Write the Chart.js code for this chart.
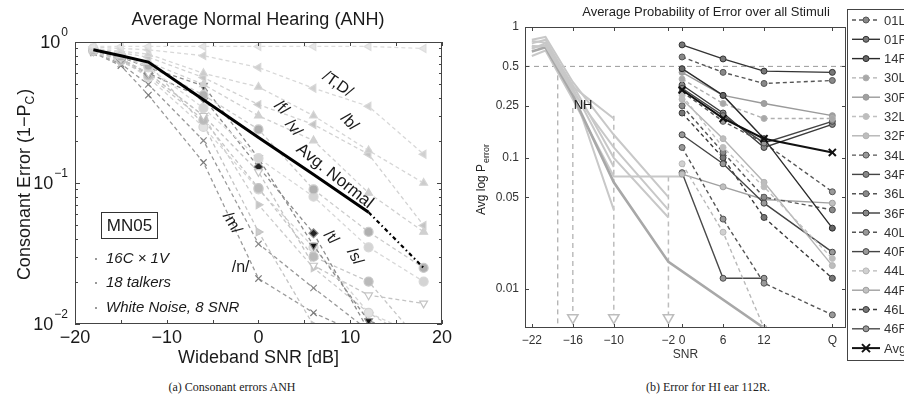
<!DOCTYPE html>
<html>
<head>
<meta charset="utf-8">
<script src="https://cdn.jsdelivr.net/npm/chart.js@4.4.1/dist/chart.umd.min.js"></script>
<style>
  body { margin: 0; width: 904px; height: 396px; background: #fff; position: relative; overflow: hidden; }
  canvas { position: absolute; top: 0; }
  #chartA { left: 0; }
  #chartB { left: 455px; }
  .cap { position: absolute; top: 380px; font: 12px "Liberation Serif", serif; color: #222; text-align: center; white-space: nowrap; }
</style>
</head>
<body>
<canvas id="chartA" width="455" height="372"></canvas>
<canvas id="chartB" width="449" height="372"></canvas>
<div class="cap" style="left:132px;width:200px">(a) Consonant errors ANH</div>
<div class="cap" style="left:608px;width:200px">(b) Error for HI ear 112R.</div>
<script>
// ---------- panel (a) data: error vs wideband SNR, 16 consonants + average
const snrA = [-18, -15, -12, -6, 0, 6, 12, 18];
const avgNormal = [0.88, 0.8, 0.72, 0.39, 0.21, 0.115, 0.062, 0.025];
const errTheta = [0.93, 0.93, 0.93, 0.93, 0.93, 0.93, 0.93, 0.9];
const errDh = [0.92, 0.9, 0.88, 0.8, 0.66, 0.47, 0.35, 0.16];
const errB = [0.9, 0.86, 0.82, 0.6, 0.48, 0.3, 0.17, 0.1];
const errF = [0.9, 0.84, 0.78, 0.56, 0.36, 0.26, 0.16, 0.05];
const errV = [0.88, 0.8, 0.72, 0.5, 0.3, 0.2, 0.085, 0.045];
const errS = [0.88, 0.79, 0.68, 0.42, 0.24, 0.09, 0.045, 0.025];
const errZ = [0.9, 0.8, 0.66, 0.34, 0.15, 0.08, 0.035, 0.02];
const errSh = [0.86, 0.76, 0.6, 0.3, 0.12, 0.026, 0.016, 0.014];
const errT = [0.88, 0.78, 0.66, 0.49, 0.15, 0.036, 0.0105, 0.008];
const errD = [0.87, 0.76, 0.6, 0.4, 0.13, 0.044, 0.009, 0.006];
const errK = [0.86, 0.74, 0.58, 0.28, 0.092, 0.03, 0.02, 0.007];
const errG = [0.87, 0.75, 0.56, 0.25, 0.09, 0.035, 0.012, 0.008];
const errP = [0.85, 0.72, 0.6, 0.3, 0.07, 0.025, 0.012, 0.007];
const errZh = [0.9, 0.82, 0.7, 0.26, 0.045, 0.0098, 0.006, 0.005];
const errM = [0.85, 0.7, 0.5, 0.2, 0.037, 0.018, 0.009, 0.007];
const errN = [0.84, 0.68, 0.42, 0.14, 0.021, 0.012, 0.008, 0.006];
const ticksA = [-20, -10, 0, 10, 20];

// ---------- panel (b) data: NH curves and HI ears
const nhSnr = [-22, -20, -16, -10, -2, 0, 12];
const nh1 = [0.75, 0.8, 0.35, 0.2];
const nh2 = [0.7, 0.72, 0.32, 0.12, 0.04];
const nh3 = [0.65, 0.7, 0.3, 0.065, 0.016, null, 0.005];
const nh4 = [0.8, 0.84, 0.38, 0.15, 0.05];
const nh5 = [0.72, 0.7, 0.33, 0.04];
const nh6 = [0.6, 0.66, 0.28, 0.072, null, 0.072];
const nh7 = [0.78, 0.76, 0.36, 0.1, 0.035];
const nh8 = [0.68, 0.75, 0.34, 0.085];
const hiSnr = [0, 6, 12, 22];
const ear01L = [0.59, 0.45, 0.37, 0.39];
const ear01R = [0.73, 0.57, 0.46, 0.45];
const ear14R = [0.48, 0.3, 0.14, 0.029];
const ear30L = [0.4, 0.26, 0.2, 0.2];
const ear30R = [0.45, 0.3, 0.26, 0.21];
const ear32L = [0.3, 0.12, 0.06, 0.017];
const ear32R = [0.28, 0.14, 0.065, 0.015];
const ear34L = [0.32, 0.19, 0.13, 0.055];
const ear34R = [0.34, 0.21, 0.13, 0.19];
const ear36L = [0.25, 0.11, 0.05, 0.04];
const ear36R = [0.36, 0.22, 0.12, 0.18];
const ear40L = [0.12, 0.034, 0.011, 0.0063];
const ear40R = [0.15, 0.09, 0.045, 0.019];
const ear44L = [0.09, 0.027, 0.005];
const ear44R = [0.075, 0.06, 0.048, 0.045];
const ear46L = [0.22, 0.1, 0.035, 0.012];
const ear46R = [0.077, 0.012, 0.012];
const avgHI = [0.33, 0.2, 0.14, 0.11];
const ticksB = [-22, -16, -10, -2, 0, 6, 12, 22];
const ticksBy = [1, 0.5, 0.25, 0.1, 0.05, 0.01];
const arrowSnr = [-16, -10, -2];
const arrowTop = [0.24, 0.21, 0.072];

function pts(xs, ys) {
  return ys.map((y, i) => ({ x: xs[i], y: y }));
}
function minus(v) {
  return String(v).replace('-', '\u2212');
}

// ---------------- panel (a) ----------------
// [values, line colour, marker, rotation, marker fill]
const consonants = [
  [errTheta, '#dedede', 'triangle', -90, '#e6e6e6'],
  [errDh, '#d8d8d8', 'triangle', -90, '#d0d0d0'],
  [errB, '#d6d6d6', 'triangle', 0, '#cccccc'],
  [errF, '#d2d2d2', 'triangle', -90, '#c4c4c4'],
  [errV, '#d0d0d0', 'triangle', 0, '#d0d0d0'],
  [errS, '#cccccc', 'circle', 0, '#b0b0b0'],
  [errZ, '#d8d8d8', 'circle', 0, '#d4d4d4'],
  [errSh, '#c4c4c4', 'triangle', 180, '#ffffff'],
  [errT, '#8c8c8c', 'triangle', 180, '#111111'],
  [errD, '#8c8c8c', 'rectRot', 0, '#222222'],
  [errK, '#c6c6c6', 'circle', 0, '#bababa'],
  [errG, '#d4d4d4', 'circle', 0, '#e2e2e2'],
  [errP, '#cccccc', 'triangle', 90, '#c6c6c6'],
  [errZh, '#c4c4c4', 'triangle', 90, '#cccccc'],
  [errM, '#9a9a9a', 'crossRot', 0, '#8a8a8a'],
  [errN, '#9a9a9a', 'crossRot', 0, '#7a7a7a'],
];

const dsA = [{
  label: 'Avg. Normal',
  data: pts(snrA, avgNormal),
  borderColor: '#000',
  borderWidth: 3,
  pointRadius: 0,
  segment: {
    borderDash: c => c.p0DataIndex >= 6 ? [4, 3, 1.5, 3] : undefined,
    borderWidth: c => c.p0DataIndex >= 6 ? 2.2 : undefined,
  },
}];
consonants.forEach(c => {
  dsA.push({
    data: pts(snrA, c[0]),
    borderColor: c[1],
    borderWidth: 1.3,
    borderDash: [4, 3],
    pointStyle: c[2],
    rotation: c[3],
    pointRadius: 4.5,
    pointBorderWidth: 1.2,
    pointBackgroundColor: c[4],
    pointBorderColor: c[2] === 'crossRot' ? c[4] : c[1],
  });
});

function rotText(ctx, text, x, y, deg, font) {
  ctx.save();
  ctx.translate(x, y);
  ctx.rotate(deg * Math.PI / 180);
  ctx.font = font;
  ctx.textAlign = 'center';
  ctx.textBaseline = 'middle';
  ctx.fillText(text, 0, 0);
  ctx.restore();
}

const panelA = {
  id: 'panelA',
  afterDraw(chart) {
    const { ctx, chartArea: a, scales } = chart;
    const sx = scales.x, sy = scales.y;
    ctx.save();
    ctx.strokeStyle = '#444';
    ctx.lineWidth = 1;
    ctx.strokeRect(a.left + 0.5, a.top + 0.5, a.right - a.left - 1, a.bottom - a.top - 1);
    ctx.beginPath();
    for (let v = -20; v <= 20; v += 5) {
      const px = Math.round(sx.getPixelForValue(v)) + 0.5;
      ctx.moveTo(px, a.bottom); ctx.lineTo(px, a.bottom - 4);
      ctx.moveTo(px, a.top); ctx.lineTo(px, a.top + 4);
    }
    [0.01, 0.1].forEach(d => {
      for (let m = 1; m < 10; m++) {
        const py = Math.round(sy.getPixelForValue(d * m)) + 0.5;
        const len = m === 1 ? 5 : 3;
        ctx.moveTo(a.left, py); ctx.lineTo(a.left + len, py);
        ctx.moveTo(a.right, py); ctx.lineTo(a.right - len, py);
      }
    });
    ctx.stroke();

    // y tick labels 10^k
    ctx.fillStyle = '#1a1a1a';
    ctx.textBaseline = 'middle';
    [[1, '0'], [0.1, '\u22121'], [0.01, '\u22122']].forEach(t => {
      const py = sy.getPixelForValue(t[0]);
      ctx.font = '12px "Liberation Sans"';
      const ew = ctx.measureText(t[1]).width;
      ctx.textAlign = 'left';
      ctx.fillText(t[1], 68 - ew, py - 9);
      ctx.font = '18px "Liberation Sans"';
      ctx.textAlign = 'right';
      ctx.fillText('10', 67 - ew, py + 1);
    });

    // y title with subscript
    ctx.save();
    ctx.translate(25, 185);
    ctx.rotate(-Math.PI / 2);
    ctx.font = '18px "Liberation Sans"';
    const p1 = 'Consonant Error (1\u2212P', p3 = ')';
    const w1 = ctx.measureText(p1).width, w3 = ctx.measureText(p3).width;
    ctx.font = '12px "Liberation Sans"';
    const w2 = ctx.measureText('C').width;
    let x0 = -(w1 + w2 + w3) / 2;
    ctx.textAlign = 'left';
    ctx.font = '18px "Liberation Sans"';
    ctx.fillText(p1, x0, 0);
    ctx.font = '12px "Liberation Sans"';
    ctx.fillText('C', x0 + w1, 6);
    ctx.font = '18px "Liberation Sans"';
    ctx.fillText(p3, x0 + w1 + w2 + 1, 0);
    ctx.restore();

    // title
    ctx.font = '18px "Liberation Sans"';
    ctx.textAlign = 'center';
    ctx.fillText('Average Normal Hearing (ANH)', 258, 20);

    // curve labels
    const X = v => sx.getPixelForValue(v), Y = v => sy.getPixelForValue(v);
    const f16 = '16px "Liberation Sans"';
    rotText(ctx, '/T,D/', X(8.6), Y(0.5), 35, f16);
    rotText(ctx, '/b/', X(9.9), Y(0.27), 45, f16);
    rotText(ctx, '/f/', X(2.5), Y(0.34), 45, f16);
    rotText(ctx, '/v/', X(3.8), Y(0.245), 50, f16);
    rotText(ctx, 'Avg. Normal', X(8.3), Y(0.112), 38.5, '17px "Liberation Sans"');
    rotText(ctx, '/m/', X(-2.9), Y(0.052), 60, f16);
    rotText(ctx, '/n/', X(-1.95), Y(0.025), 0, f16);
    rotText(ctx, '/t/', X(7.9), Y(0.041), 50, f16);
    rotText(ctx, '/s/', X(10.5), Y(0.03), 60, f16);

    // info box
    ctx.strokeStyle = '#333';
    ctx.strokeRect(101.5, 212.5, 56, 26);
    ctx.font = '17px "Liberation Sans"';
    ctx.fillText('MN05', 129.5, 226);
    ctx.textAlign = 'left';
    ctx.font = 'italic 15px "Liberation Sans"';
    [['16C \u00d7 1V', 259], ['18 talkers', 283], ['White Noise, 8 SNR', 308]].forEach(r => {
      ctx.fillStyle = '#1a1a1a';
      ctx.fillText(r[0], 106, r[1]);
      ctx.fillStyle = '#999';
      ctx.fillRect(95, r[1] - 1, 2, 2);
    });
    ctx.restore();
  }
};

new Chart(document.getElementById('chartA'), {
  type: 'line',
  data: { datasets: dsA },
  options: {
    responsive: false,
    animation: false,
    devicePixelRatio: 1,
    layout: { padding: { left: 0, top: 42, right: 10, bottom: 0 } },
    plugins: { legend: { display: false }, tooltip: { enabled: false } },
    scales: {
      x: {
        type: 'linear', min: -20, max: 20,
        afterBuildTicks: s => { s.ticks = ticksA.map(v => ({ value: v })); },
        afterFit: s => { s.height = 48; },
        grid: { display: false, drawTicks: false },
        border: { display: false },
        ticks: { padding: 3, autoSkip: false, maxRotation: 0, color: '#1a1a1a',
          font: { family: 'Liberation Sans', size: 18 }, callback: v => minus(v) },
        title: { display: true, text: 'Wideband SNR [dB]', color: '#1a1a1a',
          font: { family: 'Liberation Sans', size: 18 }, padding: { top: 0, bottom: 3 } },
      },
      y: {
        type: 'logarithmic', min: 0.01, max: 1,
        afterFit: s => { s.width = 75; },
        grid: { display: false, drawTicks: false },
        border: { display: false },
        ticks: { display: false },
      },
    },
  },
  plugins: [panelA],
});

// ---------------- panel (b) ----------------
const nhSets = [nh1, nh2, nh3, nh4, nh5, nh6, nh7, nh8];
// [name, values, line colour, dashed, marker fill]
const ears = [
  ['01L', ear01L, '#555555', true, '#888888'],
  ['01R', ear01R, '#333333', false, '#777777'],
  ['14R', ear14R, '#2a2a2a', false, '#666666'],
  ['30L', ear30L, '#b0b0b0', true, '#a8a8a8'],
  ['30R', ear30R, '#9a9a9a', false, '#a0a0a0'],
  ['32L', ear32L, '#c0c0c0', true, '#bdbdbd'],
  ['32R', ear32R, '#b4b4b4', false, '#bdbdbd'],
  ['34L', ear34L, '#555555', true, '#999999'],
  ['34R', ear34R, '#444444', false, '#888888'],
  ['36L', ear36L, '#555555', true, '#8a8a8a'],
  ['36R', ear36R, '#3a3a3a', false, '#888888'],
  ['40L', ear40L, '#555555', true, '#999999'],
  ['40R', ear40R, '#444444', false, '#999999'],
  ['44L', ear44L, '#b8b8b8', true, '#d0d0d0'],
  ['44R', ear44R, '#a0a0a0', false, '#c0c0c0'],
  ['46L', ear46L, '#3a3a3a', true, '#777777'],
  ['46R', ear46R, '#4a4a4a', false, '#999999'],
];

const dsB = [];
dsB.push({
  legendLabel: 'Avg', data: pts(hiSnr, avgHI), borderColor: '#111', borderWidth: 2,
  pointStyle: 'crossRot', pointRadius: 5, pointBorderWidth: 2, pointBorderColor: '#111',
});
ears.forEach(e => {
  dsB.push({
    legendLabel: e[0], data: pts(hiSnr, e[1]), borderColor: e[2], borderWidth: 1.4,
    borderDash: e[3] ? [4, 3] : [], pointStyle: 'circle', pointRadius: 3,
    pointBorderWidth: 1, pointBorderColor: e[2], pointBackgroundColor: e[4],
  });
});
nhSets.forEach((n, i) => {
  dsB.push({
    data: pts(nhSnr, n), borderColor: i === 2 ? '#a8a8a8' : '#c8c8c8',
    borderWidth: i === 2 ? 2.6 : 2, pointRadius: 0, spanGaps: true,
  });
});
arrowSnr.forEach((s, i) => {
  dsB.push({
    data: [{ x: s, y: arrowTop[i] }, { x: s, y: 0.006 }], borderColor: '#bdbdbd',
    borderWidth: 1.5, borderDash: [5, 4], pointStyle: 'triangle', rotation: 180,
    pointRadius: [0, 6], pointBorderColor: '#bdbdbd', pointBackgroundColor: '#fff',
  });
});
dsB.push({
  data: [{ x: -18.2, y: 0.5 }, { x: -18.2, y: 0.004 }], borderColor: '#999',
  borderWidth: 1, borderDash: [5, 4], pointRadius: 0,
});
dsB.push({
  data: [{ x: -23, y: 0.5 }, { x: 24, y: 0.5 }], borderColor: '#999',
  borderWidth: 1, borderDash: [5, 4], pointRadius: 0,
});

const panelB = {
  id: 'panelB',
  afterDraw(chart) {
    const { ctx, chartArea: a, scales } = chart;
    const sx = scales.x, sy = scales.y;
    ctx.save();
    ctx.strokeStyle = '#444';
    ctx.lineWidth = 1;
    ctx.setLineDash([]);
    ctx.strokeRect(a.left + 0.5, a.top + 0.5, a.right - a.left - 1, a.bottom - a.top - 1);
    ctx.beginPath();
    ticksB.forEach(v => {
      const px = Math.round(sx.getPixelForValue(v)) + 0.5;
      ctx.moveTo(px, a.bottom); ctx.lineTo(px, a.bottom - 4);
      ctx.moveTo(px, a.top); ctx.lineTo(px, a.top + 4);
    });
    ticksBy.forEach(v => {
      const py = Math.round(sy.getPixelForValue(v)) + 0.5;
      ctx.moveTo(a.left, py); ctx.lineTo(a.left + 4, py);
      ctx.moveTo(a.right, py); ctx.lineTo(a.right - 4, py);
    });
    ctx.stroke();

    ctx.fillStyle = '#222';
    ctx.textAlign = 'center';
    ctx.textBaseline = 'middle';
    ctx.font = '13px "Liberation Sans"';
    ctx.fillText('Average Probability of Error over all Stimuli', 251, 12);
    ctx.fillText('NH', sx.getPixelForValue(-14.5), sy.getPixelForValue(0.25));

    // y title with subscript
    ctx.save();
    ctx.translate(27, 180);
    ctx.rotate(-Math.PI / 2);
    ctx.font = '12px "Liberation Sans"';
    const t1 = 'Avg log P';
    const w1 = ctx.measureText(t1).width;
    ctx.font = '9px "Liberation Sans"';
    const w2 = ctx.measureText('error').width;
    const x0 = -(w1 + w2) / 2;
    ctx.textAlign = 'left';
    ctx.font = '12px "Liberation Sans"';
    ctx.fillText(t1, x0, 0);
    ctx.font = '9px "Liberation Sans"';
    ctx.fillText('error', x0 + w1 + 1, 5);
    ctx.restore();

    // legend box
    const items = chart.data.datasets.filter(d => d.legendLabel);
    const order = items.slice(1).concat(items[0]);
    ctx.fillStyle = '#fff';
    ctx.fillRect(392, 9, 80, 351);
    ctx.strokeStyle = '#444';
    ctx.strokeRect(392.5, 9.5, 80, 351);
    ctx.font = '13px "Liberation Sans"';
    ctx.textAlign = 'left';
    order.forEach((d, i) => {
      const y = 20 + i * 19.3;
      ctx.strokeStyle = d.borderColor;
      ctx.lineWidth = d.borderWidth;
      ctx.setLineDash(d.borderDash || []);
      ctx.beginPath();
      ctx.moveTo(397, y); ctx.lineTo(425, y);
      ctx.stroke();
      ctx.setLineDash([]);
      if (d.pointStyle === 'crossRot') {
        ctx.lineWidth = 2;
        ctx.beginPath();
        ctx.moveTo(407, y - 4); ctx.lineTo(415, y + 4);
        ctx.moveTo(407, y + 4); ctx.lineTo(415, y - 4);
        ctx.stroke();
      } else {
        ctx.lineWidth = 1;
        ctx.fillStyle = d.pointBackgroundColor;
        ctx.beginPath();
        ctx.arc(411, y, 3, 0, Math.PI * 2);
        ctx.fill();
        ctx.stroke();
      }
      ctx.fillStyle = '#333';
      ctx.fillText(d.legendLabel, 429, y + 1);
    });
    ctx.restore();
  }
};

new Chart(document.getElementById('chartB'), {
  type: 'line',
  data: { datasets: dsB },
  options: {
    responsive: false,
    animation: false,
    devicePixelRatio: 1,
    layout: { padding: { left: 0, top: 27, right: 58, bottom: 0 } },
    plugins: { legend: { display: false }, tooltip: { enabled: false } },
    scales: {
      x: {
        type: 'linear', min: -23, max: 24,
        afterBuildTicks: s => { s.ticks = ticksB.map(v => ({ value: v })); },
        afterFit: s => { s.height = 44; },
        grid: { display: false, drawTicks: false },
        border: { display: false },
        ticks: { padding: 5, autoSkip: false, maxRotation: 0, color: '#333',
          font: { family: 'Liberation Sans', size: 12 },
          callback: v => v === 22 ? 'Q' : minus(v) },
        title: { display: true, text: 'SNR', color: '#333',
          font: { family: 'Liberation Sans', size: 12 }, padding: { top: 0, bottom: 10 } },
      },
      y: {
        type: 'logarithmic', min: 0.005, max: 1,
        afterBuildTicks: s => { s.ticks = ticksBy.map(v => ({ value: v })); },
        afterFit: s => { s.width = 70; },
        grid: { display: false, drawTicks: false },
        border: { display: false },
        ticks: { padding: 6, color: '#333', font: { family: 'Liberation Sans', size: 12 },
          callback: v => String(v) },
      },
    },
  },
  plugins: [panelB],
});
</script>
</body>
</html>
